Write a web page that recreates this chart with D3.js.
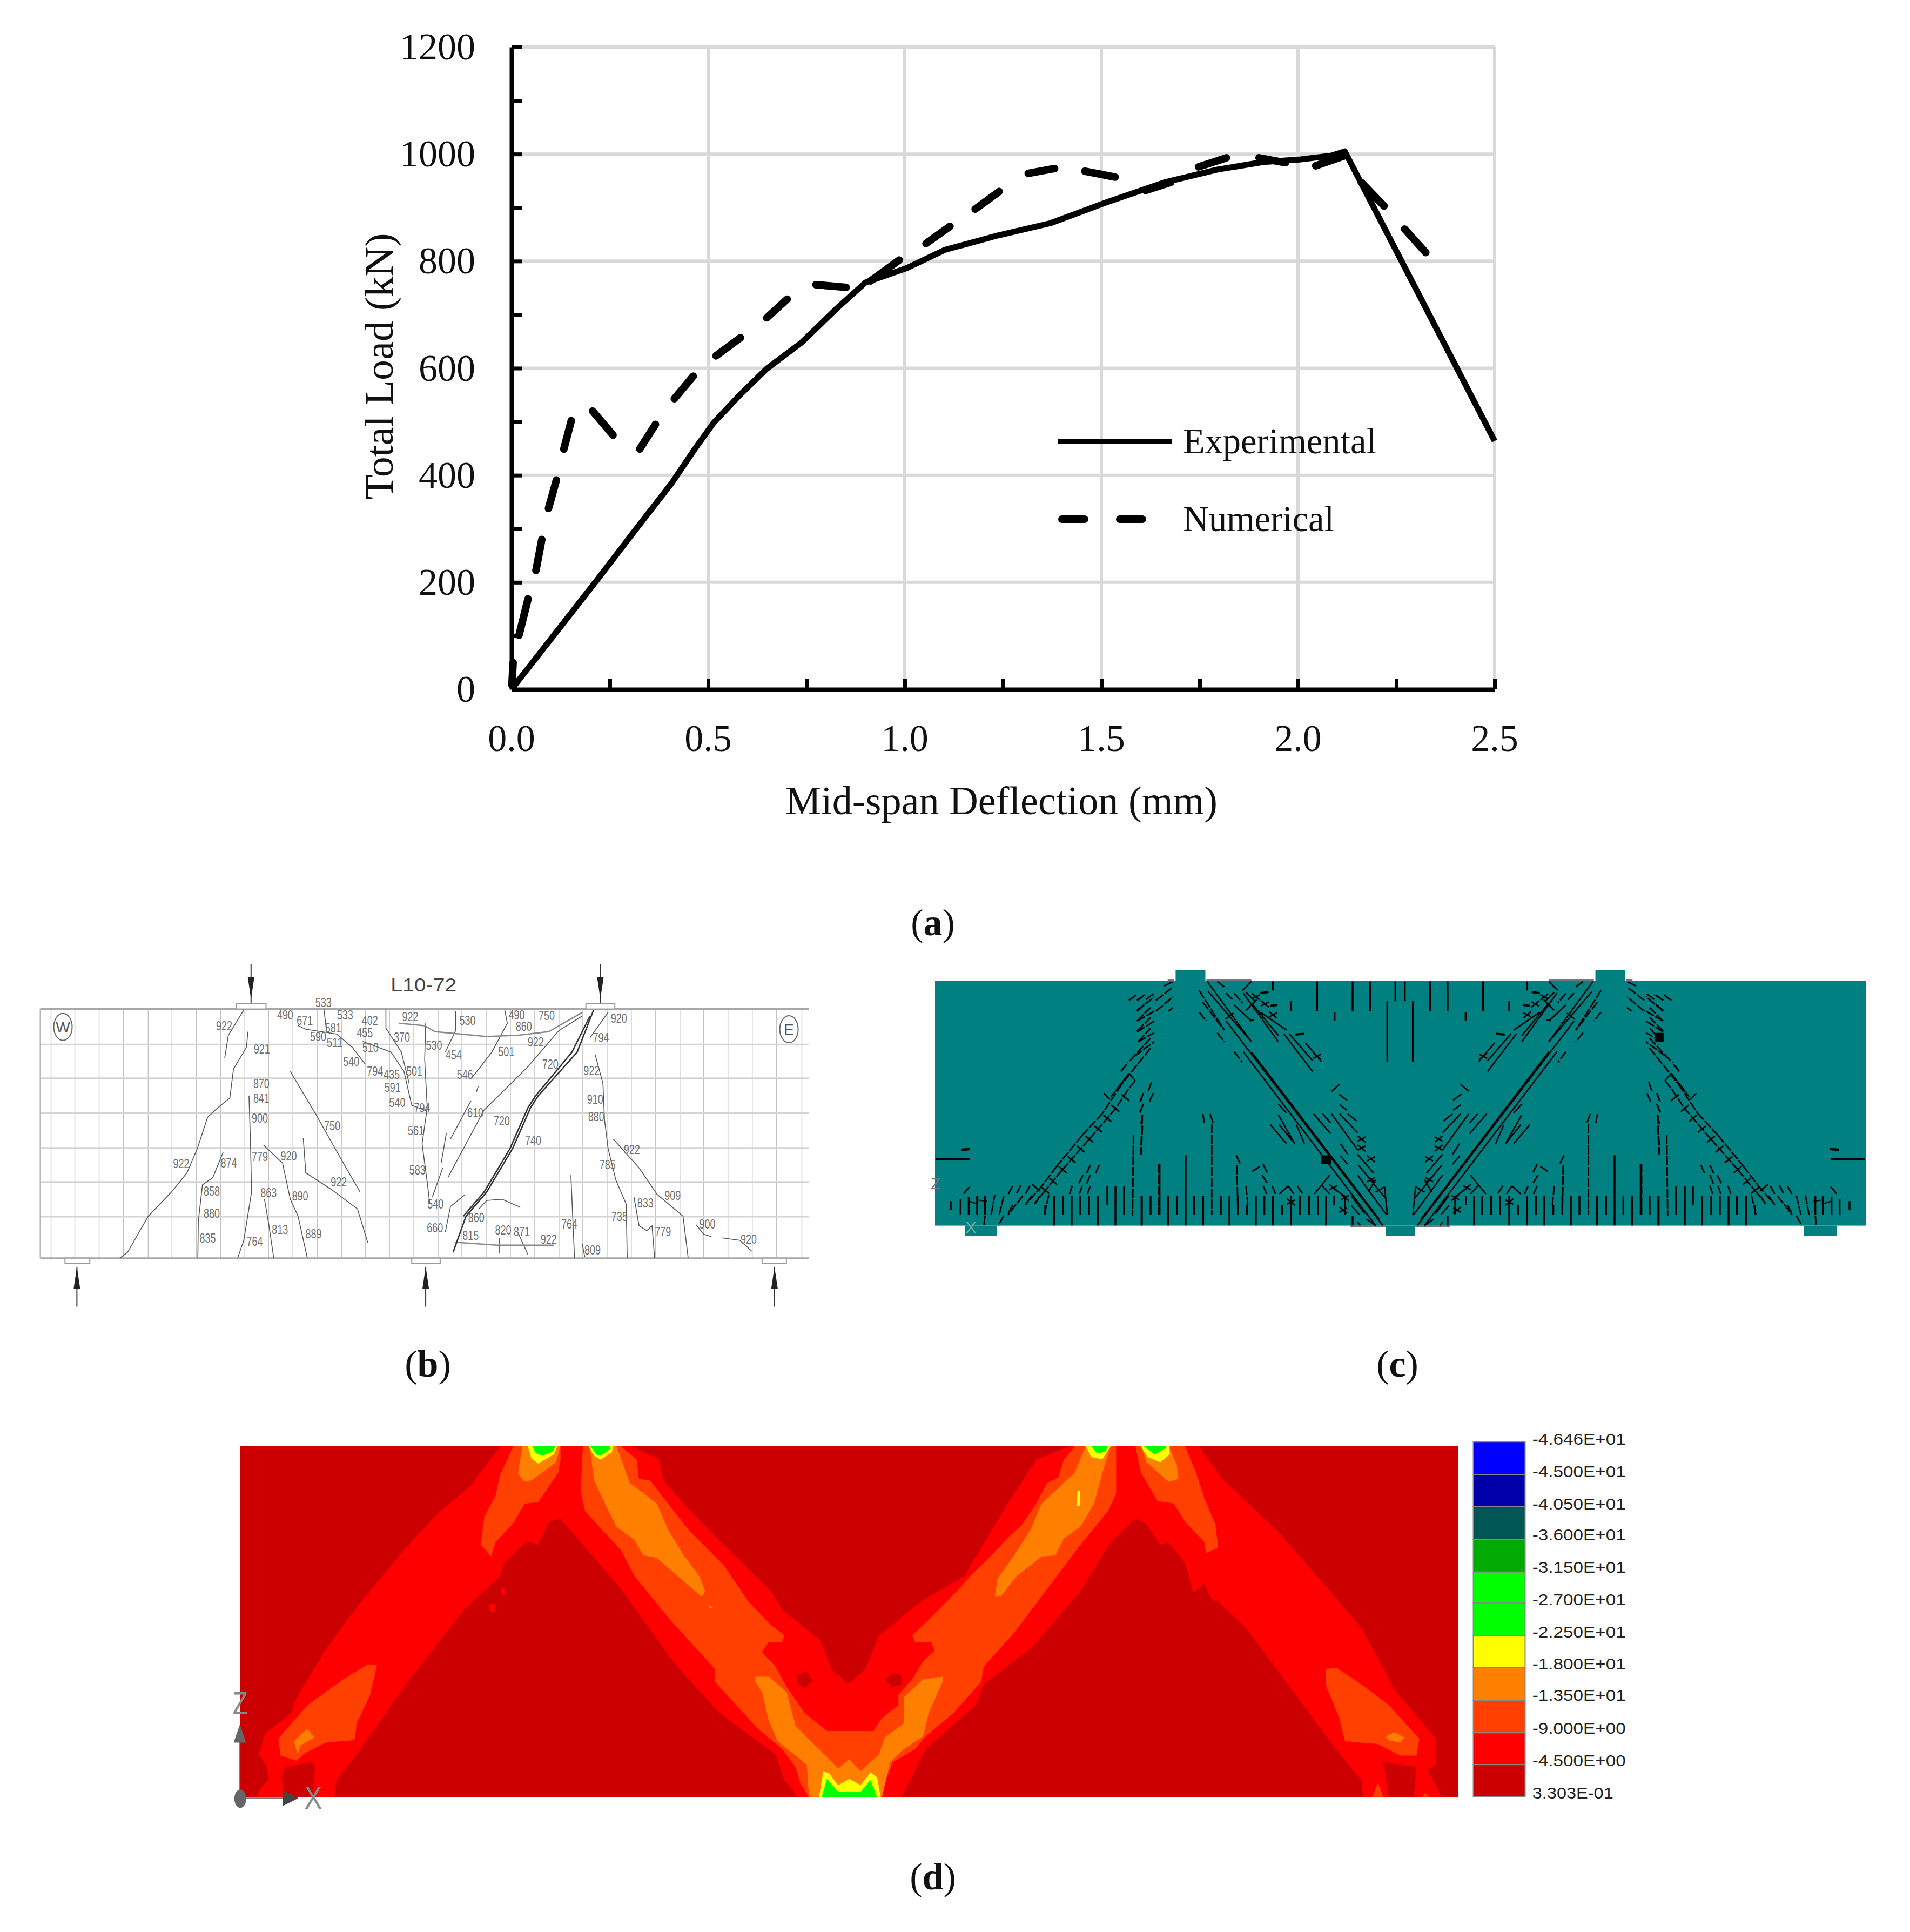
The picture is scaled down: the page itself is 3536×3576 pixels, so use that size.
<!DOCTYPE html>
<html><head><meta charset="utf-8">
<script src="https://cdn.jsdelivr.net/npm/d3@7/dist/d3.min.js"></script>
<style>html,body{margin:0;padding:0;background:#fff}svg{display:block}</style>
</head><body><svg id="c" width="3536" height="3576"></svg>
<script>
// ---------- panel (a) data ----------
const expX=[0,.216,.312,.408,.466,.514,.582,.649,.736,.832,.9,1.005,1.102,1.237,1.371,1.506,1.66,1.795,1.91,2.007,2.084,2.119,2.5];
const expY=[0,203,295,386,449,498,551,599,647,715,760,787,821,848,871,908,947,971,985,990,997,1005,464];
// numerical curve, as the visible dashes (null = gap)
const numX=[.004,.001,null,.019,.042,null,.062,.077,null,.094,.114,null,.133,.152,null,.206,.258,null,.326,.366,null,.414,.462,null,.52,.582,null,.649,.701,null,.774,.851,null,.913,.986,null,1.054,1.115,null,1.179,1.24,null,1.314,1.381,null,1.458,1.535,null,1.612,1.676,null,1.747,1.818,null,1.901,1.968,null,2.045,2.119,null,2.161,2.219,null,2.271,2.325];
const numY=[50,8,null,101,169,null,222,280,null,338,391,null,449,502,null,520,475,null,449,495,null,543,585,null,623,657,null,694,729,null,756,751,null,763,802,null,833,865,null,897,930,null,964,973,null,968,957,null,932,947,null,976,993,null,993,984,null,978,997,null,947,903,null,860,816];
const xTicks=[0,.5,1,1.5,2,2.5], xMinor=[.25,.75,1.25,1.75,2.25];
const yTicks=[0,200,400,600,800,1000,1200], yMinor=[100,300,500,700,900,1100];

// ---------- panel (b) data (reading units of the drawing) ----------
const bH=[388,528,673,817,958,1102];
const bV=[57,103,150,197,245,291,338,385,432,478,525,572,619,665,712,759,806,852,899,946,993,1040,1086,1133,1180,1227,1274,1320,1367,1414,1461,1510];
const bCracks=[[430,245,400,350,393,445],[438,335,435,400,410,490,403,610,380,650,360,690,340,820,320,920,290,1000,245,1100,205,1250,190,1274],[520,500,570,680,620,870,655,1000],[545,775,550,920,600,990,650,1070,670,1210],[468,805,505,880,520,1030,535,1100,553,1274],[440,600,443,800,445,1000,430,1200,418,1274],[470,1030,478,1130,488,1274],[390,835,370,940,350,970,342,1120,341,1274],[535,310,550,325,610,345,640,400,665,470],[585,240,590,330],[660,375,715,420,740,500,755,640,785,665],[705,241,705,320,735,420,750,550],[782,300,780,450,785,650,775,800,785,960,790,1050],[840,250,840,330,820,420],[935,245,940,300,910,420,870,530],[884,560,880,585],[870,620,830,780],[822,755,812,880],[815,900,795,1020],[1085,270,1040,330,980,480,895,660,860,800,825,940],[1135,255,1100,360],[1110,430,1125,550,1128,700,1135,820,1150,950,1170,1050,1172,1274],[1145,780,1195,900,1230,1010,1280,1100,1290,1274],[1185,1020,1195,1140,1210,1160,1220,1140,1225,1274],[1063,930,1070,1274],[1085,1215,1090,1270],[1305,1135,1320,1175,1335,1185],[1355,1190,1390,1200,1413,1245],[857,1013,830,1060,820,1165],[885,1070,900,1035,930,1030,965,1063],[925,1190,925,1255],[960,1165,980,1260]];
const bGrey=[[730,300,780,310,800,335,900,355,960,350,1020,335,1085,255],[838,1208,920,1220,1030,1220]];
const bMain=[[1107,245,1075,420,1000,600,985,650,950,820,900,1000,860,1100,835,1250],[1100,270,1065,420,995,600,980,650,945,820,895,1000,855,1100]];
const bLabels=[[392,310,"922"],[510,265,"490"],[548,288,"671"],[584,213,"533"],[626,265,"533"],[603,318,"581"],[574,355,"590"],[606,380,"511"],[674,288,"402"],[664,338,"455"],[675,400,"510"],[638,458,"540"],[684,498,"794"],[716,512,"435"],[760,498,"501"],[736,358,"370"],[752,272,"922"],[798,390,"530"],[836,430,"454"],[863,287,"530"],[958,265,"490"],[1016,268,"750"],[972,313,"860"],[995,377,"922"],[938,418,"501"],[858,512,"546"],[1023,470,"720"],[1156,278,"920"],[1121,360,"794"],[1103,495,"922"],[465,407,"921"],[464,550,"870"],[464,610,"841"],[461,693,"900"],[718,565,"591"],[727,628,"540"],[775,650,"794"],[763,745,"561"],[878,670,"610"],[929,705,"720"],[601,725,"750"],[990,785,"740"],[1110,615,"910"],[1112,687,"880"],[1181,822,"922"],[309,882,"922"],[401,880,"874"],[461,853,"779"],[517,850,"920"],[766,908,"583"],[614,958,"922"],[368,995,"858"],[478,1003,"863"],[539,1015,"890"],[801,1050,"540"],[1134,885,"785"],[1260,1013,"909"],[1207,1045,"833"],[368,1088,"880"],[500,1155,"813"],[565,1172,"889"],[360,1190,"835"],[451,1203,"764"],[800,1147,"660"],[880,1105,"860"],[869,1178,"815"],[932,1157,"820"],[968,1163,"871"],[1020,1195,"922"],[1060,1133,"764"],[1157,1100,"735"],[1241,1163,"779"],[1327,1133,"900"],[1407,1195,"920"],[1105,1240,"809"]];
const bPlates=[[416,218,473,241],[1092,218,1148,241],[84,1274,132,1295],[755,1274,810,1295],[1433,1274,1480,1295]];
const bArrowsDown=[444,1120], bArrowsUp=[107,782,1457];
const bNotes=[[80,315,"W"],[1485,325,"E"]];

// ---------- panel (c) data: crack marks of the left half, read on two crops ----------
const cSupports=[[415,100,463,155],[1092,100,1140,155],[75,1424,127,1478],[754,1424,801,1478],[1428,1424,1481,1478]];
const cBlocksWide=[[650,1060,666,1105],[1188,425,1202,470]];
const c1Dash=[[1080,155,1120,125],[1125,155,1175,120],[1125,210,1175,170],[1125,270,1200,195],[1125,325,1200,250],[1130,385,1200,310],[1035,550,1075,500],[1085,490,1200,365],[1200,420,1040,620],[1040,620,935,780],[935,780,820,905],[820,905,680,1075],[680,1075,600,1180],[600,1180,505,1290],[1115,600,1075,650],[1075,650,1010,750],[1010,750,860,925],[860,925,710,1095],[710,1095,615,1210],[615,1210,555,1285],[1160,670,1140,725],[1160,730,1140,780],[1155,790,1145,850],[1155,850,1148,1010],[1105,900,1100,1350],[865,1070,845,1115],[915,1070,895,1115],[825,1125,800,1175],[865,1125,845,1175],[765,1185,750,1230],[820,1185,805,1230],[865,1185,850,1230],[435,1185,410,1230],[480,1180,455,1230],[530,1185,505,1230],[195,1190,160,1230],[335,1235,315,1345],[385,1240,360,1345],[490,1240,410,1345],[435,1290,405,1345],[385,1350,355,1405],[540,1240,505,1290],[585,1240,555,1290],[635,1235,610,1345],[280,1350,275,1405]];
const c1Solid=[[940,670,975,705],[980,690,1080,560],[1080,560,1115,600],[190,1270,240,1285],[250,1265,290,1270],[240,1240,240,1285]];
const c1Thick=[[5,1037,195,1037],[150,985,198,980]];
const c1Cross=[[1060,695],[1005,755],[960,810],[910,870],[860,925],[812,980],[762,1040],[712,1095],[660,1160],[615,1210],[565,1195]];
const c1Comb=[[90,1270,1320],[145,1260,1345],[190,1245,1345],[237,1240,1345],[280,1240,1345],[615,1290,1345],[665,1240,1405],[715,1240,1345],[762,1240,1405],[810,1240,1345],[858,1240,1345],[908,1240,1405],[960,1185,1290],[1005,1185,1405],[1053,1185,1345],[1150,1240,1405]];
const c2Dash=[[165,75,215,50],[120,155,210,85],[15,155,65,120],[65,150,110,115],[15,215,110,135],[120,215,215,135],[190,215,215,195],[15,270,110,215],[15,330,110,270],[20,385,110,335],[0,465,110,385],[360,100,500,320],[380,165,500,320],[360,220,400,270],[460,335,500,385],[555,440,600,500],[460,50,500,80],[510,115,545,150],[555,115,600,170],[95,610,75,665],[105,670,80,725],[50,670,30,725],[50,730,30,780],[45,790,35,1010],[420,785,440,840],[430,840,430,1345],[380,785,390,840],[565,1015,590,1065],[570,1070,575,1345],[135,1065,135,1345],[715,1065,740,1115],[655,1105,700,1075],[710,1125,740,1175],[715,1185,735,1230],[765,1185,785,1230],[905,1185,935,1230],[620,1185,630,1290]];
const c2Solid=[[405,50,650,385],[410,105,650,385],[510,270,1380,1405],[605,440,1340,1405],[650,440,1360,1370],[555,180,650,270],[605,115,800,385],[650,170,800,350],[700,220,845,320],[830,340,990,550],[860,340,990,490],[950,390,1040,495],[620,110,670,160],[600,100,650,50],[505,260,550,225],[620,210,680,150],[640,265,665,265],[1095,660,1140,620],[1135,675,1182,710],[1140,735,1182,765],[1185,785,1235,825],[800,730,845,780],[800,790,890,950],[755,845,845,950],[805,845,890,950],[900,845,945,950],[995,785,1090,895],[1045,785,1090,835],[1095,785,1240,985],[1140,785,1240,890],[1145,950,1185,1010],[1145,1020,1185,1065],[1240,1010,1330,1115],[1245,1070,1400,1260],[1240,1125,1400,1345],[805,1230,855,1185],[855,1185,885,1230],[1085,1125,1000,1230],[1040,1180,1085,1230],[1205,1240,1280,1340],[1205,1295,1250,1345],[1290,1370,1340,1405],[1240,1385,1255,1405],[1300,1220,1340,1150],[1340,1220,1390,1190],[1390,1190,1405,1345],[1100,1195,1180,1250]];
const c2Thick=[[700,115,745,108],[755,185,795,180],[895,345,945,340]];
const c2Cross=[[675,135],[725,175],[770,235],[1015,465],[1262,925],[1262,975],[1315,1035],[1315,1150],[1170,1250],[1160,1320],[870,1275],[1105,1195]];
const c2Comb=[[42,1240,1405],[90,1240,1345],[140,1065,1345],[188,1240,1405],[236,1240,1345],[285,1015,1405],[332,1240,1345],[382,1240,1405],[480,1240,1345],[528,1240,1405],[575,1240,1345],[625,1290,1345],[675,1240,1405],[722,1240,1345],[770,1240,1405],[820,1290,1345],[870,1240,1405],[920,1240,1345],[970,1240,1345],[1020,1240,1345],[1065,1240,1405],[1110,1240,1290],[1170,1240,1345],[1212,1350,1405],[770,50,100],[1015,50,215],[1212,50,215],[1310,50,215],[1405,160,495],[870,160,215],[1112,220,270],[1450,50,160]];
const c2Grey=[[400,42,650,42],[185,42,220,42],[1200,1410,1395,1410]];
const c2Block=[[1040,1012,1095,1065]];

// ---------- panel (d) data ----------
const dLevels=[{c:"#0000ff",l:"-4.646E+01"},{c:"#0000aa",l:"-4.500E+01"},{c:"#005555",l:"-4.050E+01"},{c:"#00aa00",l:"-3.600E+01"},{c:"#00ff00",l:"-3.150E+01"},{c:"#00ff00",l:"-2.700E+01"},{c:"#ffff00",l:"-2.250E+01"},{c:"#ff8000",l:"-1.800E+01"},{c:"#ff4000",l:"-1.350E+01"},{c:"#ff0000",l:"-9.000E+00"},{c:"#cc0000",l:"-4.500E+00"}];
const dLabelLast="3.303E-01";
const dEdges=[80,208,332,458,585,705,830,955,1082,1207,1330,1455];
const dLabelY=[70,195,320,440,565,690,815,940,1060,1188,1313,1438];
const L=(...a)=>({s:"l",a}),R=(...a)=>({s:"r",a});
const dRings=[
["#ff0000",[L(68,1457,72,1430,92,1390,90,1340,72,1290,85,1210,145,1130,150,1090,215,900,290,720,400,490,470,360,545,250,610,98,905,98,965,150,975,230,1030,340,1110,480,1215,660,1240,730,1325,850,1350,960,1385,1015),R(70,1015,100,960,125,830,200,700,280,600,355,330,410,150,470,98,705,98,750,230,850,430,1000,800,1060,1040,1135,1230,1135,1330,1120,1350,1140,1430,1145,1457,1095,1457,1100,1340,1040,1320,1050,1457,1003,1457,1000,1390,950,1260,860,1000,790,800,740,700,728,690,715,630,695,665,680,550,650,470,635,480,610,400,590,378,545,470,490,660,400,880,315,1020,300,1100,210,1270,165,1457),L(1275,1457,1245,1390,1225,1290,1100,1130,1000,940,880,650,745,378,720,390,695,480,670,465,620,550,610,600,530,730,480,840,400,1020,290,1290,245,1390,240,1457,190,1457,197,1340,190,1320,130,1340,122,1380,130,1457)]],
["#ff0000",[L(612,648,622,648,622,675,612,675)]],
["#ff0000",[L(588,705,603,715,595,745,585,730)]],
["#cc0000",[L(1275,980,1295,970,1308,1005,1290,1035,1272,1010)]],
["#cc0000",[L(1470,1000,1490,975,1505,985,1503,1020,1485,1030)]],
["#cc0000",[R(135,1000,150,975,167,985,165,1020,150,1030)]],
["#cc0000",[R(710,695,728,695,725,745,715,745)]],
["#ff4000",[L(640,98,610,210,600,290,575,370,567,480,590,525,600,470,640,395,665,320,695,315,740,200,745,150,745,98)]],
["#ff4000",[L(315,942,335,945,320,1060,290,1170,285,1235,220,1245,175,1285,155,1315,120,1295,115,1230,180,1100,260,1000)]],
["#ff4000",[L(795,98,790,270,800,350,880,500,910,600,990,770,1090,960,1090,1010,1185,1190,1240,1270,1270,1340,1280,1400,1300,1457),R(130,1457,135,1400,150,1320,190,1270,210,1220,260,1130,310,1010,315,950,370,820,430,650,490,480,540,350,555,280,555,98,480,98,460,150,450,220,430,240,410,320,385,400,360,450,320,540,295,590,270,650,215,770,185,830,190,855,220,855,225,890,205,930,185,1000,160,1060,160,1100,130,1150,115,1200,25,1200),L(1340,1200,1290,1130,1250,1030,1225,950,1195,895,1210,855,1240,855,1245,830,1215,790,1165,700,1110,560,1030,420,985,320,945,230,920,225,915,150,880,98)]],
["#ff4000",[R(590,98,600,200,630,310,660,320,680,390,715,470,718,512,740,490,735,400,715,300,700,200,680,98)]],
["#ff4000",[R(935,960,955,955,1000,1020,1050,1100,1105,1230,1100,1295,1070,1295,1030,1250,970,1240,960,1150,935,1020)]],
["#ff4000",[R(1020,1457,1030,1400,1040,1457)]],
["#ff4000",[R(1110,1457,1115,1440,1125,1457)]],
["#ff8000",[L(660,98,650,205,665,235,680,230,735,160,745,98)]],
["#ff8000",[L(810,98,820,230,850,340,870,410,910,460,930,520,960,530,1040,650,1060,680,1068,660,1055,600,1020,520,985,420,960,320,900,240,885,170,870,98)]],
["#ff8000",[L(150,1240,180,1190,195,1225,165,1255,158,1290)]],
["#ff8000",[L(1075,708,1087,725,1078,727)]],
["#ff8000",[L(1180,990,1210,990,1250,1050,1270,1180,1310,1250,1345,1310,1365,1345,1390,1310,1415,1355),R(92,1355,125,1290,135,1225,170,1170,170,1070,205,1000,240,990,240,1010,215,1130,205,1220,170,1270,145,1320,130,1457),L(1300,1457,1295,1330,1230,1240,1210,1160,1195,1050,1180,1010)]],
["#ff8000",[R(500,98,480,200,420,320,400,420,370,520,340,610,335,680,345,680,375,600,420,525,445,520,460,455,490,410,515,320,530,200,545,98)]],
["#ff8000",[R(600,98,610,160,650,235,668,225,665,170,650,98)]],
["#ff8000",[R(1045,1220,1060,1205,1078,1225,1070,1245,1048,1235)]],
["#ffff00",[L(672,98,680,145,695,165,730,130,738,98)]],
["#ffff00",[L(808,98,820,135,835,150,860,120,862,98)]],
["#ffff00",[L(1322,1457,1332,1355,1345,1365,1365,1410,1390,1385,1415,1410,1437,1360,1452,1380,1460,1457)]],
["#ffff00",[R(500,98,510,140,530,148,545,98)]],
["#ffff00",[R(600,98,612,140,635,160,652,130,652,98)]],
["#ffff00",[R(485,270,490,270,490,330,484,330)]],
["#00ff00",[L(682,98,690,125,705,135,730,115,733,98)]],
["#00ff00",[L(812,98,825,130,835,135,855,110,855,98)]],
["#00ff00",[L(1328,1457,1340,1385,1365,1435,1415,1435,1437,1390,1452,1457)]],
["#00ff00",[R(510,98,520,125,535,120,540,98)]],
["#00ff00",[R(605,98,625,130,645,105,645,98)]]
];

// ---------- scales ----------
const svg=d3.select("#c");
const x=d3.scaleLinear().domain([0,2.5]).range([947,2767]);
const y=d3.scaleLinear().domain([0,1200]).range([1276,87]);
const bx=d3.scaleLinear().domain([0,1568]).range([40,1540]), by=d3.scaleLinear().domain([0,1568]).range([1760,2460]);
const cx=d3.scaleLinear().domain([0,1568]).range([1700,3500]), cy=d3.scaleLinear().domain([0,1568]).range([1760,2320]);
const MID=2592; // symmetry axis of beam (c)
const c1x=d3.scaleLinear().domain([0,1200]).range([1730,2130]), c2x=d3.scaleLinear().domain([0,1200]).range([2100,2500]), c0y=d3.scaleLinear().domain([0,1200]).range([1800,2200]);
const dxl=d3.scaleLinear().domain([0,1568]).range([420,1720]), dxr=d3.scaleLinear().domain([0,1568]).range([1500,3100]), dy=d3.scaleLinear().domain([0,1568]).range([2630,3380]);
const pairs=a=>{const o=[];for(let i=0;i<a.length;i+=2)o.push([a[i],a[i+1]]);return o;};
const line=d3.line();

// ---------- panel (a) ----------
const a=svg.append("g");
const GRID="#d9d9d9";
a.selectAll(".gx").data(xTicks.slice(1)).join("line").attr("x1",x).attr("x2",x).attr("y1",y(1200)).attr("y2",y(0)).attr("stroke",GRID).attr("stroke-width",6);
a.selectAll(".gy").data(yTicks.slice(1)).join("line").attr("y1",y).attr("y2",y).attr("x1",x(0)).attr("x2",x(2.5)).attr("stroke",GRID).attr("stroke-width",6);
const axB=d3.axisBottom(x).tickValues(xTicks.concat(xMinor)).tickSize(0).tickFormat("");
const axL=d3.axisLeft(y).tickValues(yTicks.concat(yMinor)).tickSize(0).tickFormat("");
a.append("g").attr("transform",`translate(0,${y(0)})`).call(axB).call(g=>{g.select(".domain").attr("stroke","#000").attr("stroke-width",8);g.selectAll(".tick line").attr("y2",-20).attr("stroke","#000").attr("stroke-width",7);});
a.append("g").attr("transform",`translate(${x(0)},0)`).call(axL).call(g=>{g.select(".domain").attr("stroke","#000").attr("stroke-width",8);g.selectAll(".tick line").attr("x2",20).attr("stroke","#000").attr("stroke-width",7);});
const serif="'Liberation Serif','Times New Roman',serif";
a.selectAll(".xt").data(xTicks).join("text").attr("x",x).attr("y",1365).attr("dy","0.35em").attr("text-anchor","middle").attr("font-family",serif).attr("font-size",70).attr("fill","#111").text(d=>d.toFixed(1));
a.selectAll(".yt").data(yTicks).join("text").attr("x",880).attr("y",d=>y(d)).attr("dy","0.33em").attr("text-anchor","end").attr("font-family",serif).attr("font-size",70).attr("fill","#111").text(d=>d);
a.append("text").attr("x",1854).attr("y",1483).attr("dy","0.33em").attr("text-anchor","middle").attr("font-family",serif).attr("font-size",74).attr("textLength",800).attr("lengthAdjust","spacingAndGlyphs").attr("fill","#111").text("Mid-span Deflection (mm)");
a.append("text").attr("transform","translate(703,678) rotate(-90)").attr("dy","0.33em").attr("text-anchor","middle").attr("font-family",serif).attr("font-size",74).attr("textLength",493).attr("lengthAdjust","spacingAndGlyphs").attr("fill","#111").text("Total Load (kN)");
const lnA=d3.line().defined(d=>d[0]!=null).x(d=>x(d[0])).y(d=>y(d[1]));
a.append("path").attr("d",lnA(d3.zip(numX,numY))).attr("fill","none").attr("stroke","#000").attr("stroke-width",14).attr("stroke-linecap","round");
a.append("path").attr("d",lnA(d3.zip(expX,expY))).attr("fill","none").attr("stroke","#000").attr("stroke-width",11).attr("stroke-linejoin","round");
a.append("line").attr("x1",1959).attr("x2",2169).attr("y1",817).attr("y2",817).attr("stroke","#000").attr("stroke-width",10);
a.append("line").attr("x1",1966).attr("x2",2115).attr("y1",961).attr("y2",961).attr("stroke","#000").attr("stroke-width",14).attr("stroke-dasharray","42 65").attr("stroke-linecap","round");
a.append("text").attr("x",2190).attr("y",817).attr("dy","0.33em").attr("font-family",serif).attr("font-size",68).attr("textLength",358).attr("lengthAdjust","spacingAndGlyphs").attr("fill","#111").text("Experimental");
a.append("text").attr("x",2190).attr("y",961).attr("dy","0.33em").attr("font-family",serif).attr("font-size",68).attr("textLength",280).attr("lengthAdjust","spacingAndGlyphs").attr("fill","#111").text("Numerical");

// captions
[["a",1727,1708],["b",792,2525],["c",2587,2525],["d",1727,3474]].forEach(([t,px,py])=>{
  const tx=svg.append("text").attr("x",px).attr("y",py).attr("dy","0.33em").attr("text-anchor","middle").attr("font-family",serif).attr("font-size",70).attr("fill","#111");
  tx.append("tspan").text("(");tx.append("tspan").attr("font-weight","bold").text(t);tx.append("tspan").text(")");
});

// ---------- panel (b) ----------
const b=svg.append("g");
const bl=d3.line().x(d=>bx(d[0])).y(d=>by(d[1]));
b.selectAll(".v").data(bV).join("line").attr("x1",bx).attr("x2",bx).attr("y1",by(241)).attr("y2",by(1274)).attr("stroke","#c4c4c4").attr("stroke-width",1.5);
b.selectAll(".h").data(bH).join("line").attr("y1",by).attr("y2",by).attr("x1",bx(36)).attr("x2",bx(1524)).attr("stroke","#d4d4d4").attr("stroke-width",3);
[241,1274].forEach(v=>b.append("line").attr("x1",bx(36)).attr("x2",bx(1524)).attr("y1",by(v)).attr("y2",by(v)).attr("stroke","#a8a8a8").attr("stroke-width",3));
b.append("line").attr("x1",bx(36)).attr("x2",bx(36)).attr("y1",by(241)).attr("y2",by(1274)).attr("stroke","#b8b8b8").attr("stroke-width",2);
b.selectAll(".p").data(bPlates).join("rect").attr("x",d=>bx(d[0])).attr("y",d=>by(d[1])).attr("width",d=>bx(d[2])-bx(d[0])).attr("height",d=>by(d[3])-by(d[1])).attr("fill","#fff").attr("stroke","#999").attr("stroke-width",2);
b.selectAll(".c").data(bCracks).join("path").attr("d",d=>bl(pairs(d))).attr("fill","none").attr("stroke","#555").attr("stroke-width",1.6);
b.selectAll(".g").data(bGrey).join("path").attr("d",d=>bl(pairs(d))).attr("fill","none").attr("stroke","#888").attr("stroke-width",2.5);
b.selectAll(".m").data(bMain).join("path").attr("d",d=>bl(pairs(d))).attr("fill","none").attr("stroke","#333").attr("stroke-width",2.6);
b.selectAll(".t").data(bLabels).join("text").attr("x",d=>bx(d[0])).attr("y",d=>by(d[1])).attr("dy","0.36em").attr("text-anchor","middle").attr("font-family","'Liberation Sans',sans-serif").attr("font-size",24).attr("textLength",30).attr("lengthAdjust","spacingAndGlyphs").attr("fill","#707070").text(d=>d[2]);
b.append("text").attr("x",bx(778)).attr("y",by(140)).attr("dy","0.36em").attr("text-anchor","middle").attr("font-family","'Liberation Sans',sans-serif").attr("font-size",35).attr("textLength",122).attr("lengthAdjust","spacingAndGlyphs").attr("fill","#444").text("L10-72");
bArrowsDown.forEach(v=>{
  b.append("line").attr("x1",bx(v)).attr("x2",bx(v)).attr("y1",by(56)).attr("y2",by(215)).attr("stroke","#333").attr("stroke-width",2);
  b.append("path").attr("d",line([[bx(v)-6,by(110)],[bx(v)+6,by(110)],[bx(v),by(200)]])+"Z").attr("fill","#222");
});
bArrowsUp.forEach(v=>{
  b.append("line").attr("x1",bx(v)).attr("x2",bx(v)).attr("y1",by(1310)).attr("y2",by(1475)).attr("stroke","#333").attr("stroke-width",2);
  b.append("path").attr("d",line([[bx(v)-6,by(1400)],[bx(v)+6,by(1400)],[bx(v),by(1310)]])+"Z").attr("fill","#222");
});
bNotes.forEach(d=>{
  b.append("ellipse").attr("cx",bx(d[0])).attr("cy",by(d[1])).attr("rx",17).attr("ry",25).attr("fill","none").attr("stroke","#666").attr("stroke-width",2);
  b.append("text").attr("x",bx(d[0])).attr("y",by(d[1])).attr("dy","0.36em").attr("text-anchor","middle").attr("font-family","'Liberation Sans',sans-serif").attr("font-size",28).attr("fill","#555").text(d[2]);
});

// ---------- panel (c) ----------
const c=svg.append("g");
c.append("rect").attr("x",cx(27)).attr("y",cy(155)).attr("width",cx(1528)-cx(27)).attr("height",cy(1424)-cy(155)).attr("fill","#008080");
c.selectAll(".s").data(cSupports).join("rect").attr("x",d=>cx(d[0])).attr("y",d=>cy(d[1])).attr("width",d=>cx(d[2])-cx(d[0])).attr("height",d=>cy(d[3])-cy(d[1])).attr("fill","#008080");
function seg(data,sx,mirror,w,col,dash){
  const fx=v=>mirror?2*MID-sx(v):sx(v);
  c.append("g").selectAll("line").data(data).join("line").attr("x1",d=>fx(d[0])).attr("x2",d=>fx(d[2])).attr("y1",d=>c0y(d[1])).attr("y2",d=>c0y(d[3])).attr("stroke",col).attr("stroke-width",w).attr("stroke-dasharray",dash||null);
}
[false,true].forEach(m=>{
  seg(c2Grey,c2x,m,4,"#777");
  seg(c1Dash,c1x,m,2.8,"#000","17 3");
  seg(c1Solid,c1x,m,2.4,"#000");
  seg(c1Thick,c1x,m,4.5,"#000");
  seg(c1Cross.flatMap(p=>[[p[0]-22,p[1]-18,p[0]+22,p[1]+18]]),c1x,m,2.8,"#000");
  seg(c1Comb.map(p=>[p[0],p[1],p[0],p[2]]),c1x,m,3.4,"#000");
  seg(c2Dash,c2x,m,2.8,"#000","17 3");
  seg(c2Solid,c2x,m,2.6,"#000");
  seg(c2Thick,c2x,m,4,"#000");
  seg(c2Cross.flatMap(p=>[[p[0]-22,p[1]-18,p[0]+22,p[1]+18],[p[0]-22,p[1]+12,p[0]+22,p[1]-12]]),c2x,m,2.6,"#000");
  seg(c2Comb.map(p=>[p[0],p[1],p[0],p[2]]),c2x,m,3.4,"#000");
});
c.selectAll(".b").data(cBlocksWide).join("rect").attr("x",d=>cx(d[0])).attr("y",d=>cy(d[1])).attr("width",d=>cx(d[2])-cx(d[0])).attr("height",d=>cy(d[3])-cy(d[1])).attr("fill","#000");
c.append("text").attr("x",cx(28)).attr("y",cy(1205)).attr("dy","0.36em").attr("text-anchor","middle").attr("font-family","'Liberation Sans',sans-serif").attr("font-size",30).attr("fill","#777").text("Z");
c.append("text").attr("x",cx(85)).attr("y",cy(1430)).attr("dy","0.36em").attr("text-anchor","middle").attr("font-family","'Liberation Sans',sans-serif").attr("font-size",30).attr("fill","#7aa").text("X");

// ---------- panel (d) ----------
const d_=svg.append("g");
const ringPts=r=>r.flatMap(p=>pairs(p.a).map(q=>[(p.s==="l"?dxl:dxr)(q[0]),dy(q[1])]));
d_.append("rect").attr("x",dxl(29)).attr("y",dy(98)).attr("width",dxr(1175)-dxl(29)).attr("height",dy(1457)-dy(98)).attr("fill","#cc0000");
d_.selectAll(".r").data(dRings).join("path").attr("d",d=>line(ringPts(d[1]))+"Z").attr("fill",d=>d[0]);
const segs=dLevels.map((d,i)=>({c:d.c,y0:dEdges[i],y1:dEdges[i+1]}));
d_.selectAll(".k").data(segs).join("rect").attr("x",dxr(1203)).attr("width",dxr(1297)-dxr(1203)).attr("y",d=>dy(d.y0)).attr("height",d=>dy(d.y1)-dy(d.y0)).attr("fill",d=>d.c).attr("stroke","#888").attr("stroke-width",2);
d_.selectAll(".kt").data(dLevels.map(d=>d.l).concat([dLabelLast])).join("text").attr("x",dxr(1310)).attr("y",(d,i)=>dy(dLabelY[i])).attr("dy","0.36em").attr("font-family","'Liberation Sans',sans-serif").attr("font-size",30).attr("textLength",d=>d===dLabelLast?150:173).attr("lengthAdjust","spacingAndGlyphs").attr("fill","#222").text(d=>d);
d_.append("line").attr("x1",dxl(29)).attr("x2",dxl(29)).attr("y1",dy(1240)).attr("y2",dy(1460)).attr("stroke","#777").attr("stroke-width",2);
d_.append("line").attr("x1",dxl(29)).attr("x2",dxl(130)).attr("y1",dy(1460)).attr("y2",dy(1460)).attr("stroke","#777").attr("stroke-width",2);
d_.append("path").attr("d",line([[dxl(15),dy(1245)],[dxl(43),dy(1245)],[dxl(29),dy(1175)]])+"Z").attr("fill","#666");
d_.append("path").attr("d",line([[dxl(125),dy(1430)],[dxl(125),dy(1490)],[dxl(160),dy(1460)]])+"Z").attr("fill","#444");
d_.append("ellipse").attr("cx",dxl(30)).attr("cy",dy(1462)).attr("rx",11).attr("ry",17).attr("fill","#666");
d_.append("text").attr("x",dxl(30)).attr("y",dy(1090)).attr("dy","0.36em").attr("text-anchor","middle").attr("font-family","'Liberation Sans',sans-serif").attr("font-size",60).attr("textLength",28).attr("lengthAdjust","spacingAndGlyphs").attr("fill","#888").text("Z");
d_.append("text").attr("x",dxl(193)).attr("y",dy(1455)).attr("dy","0.36em").attr("text-anchor","middle").attr("font-family","'Liberation Sans',sans-serif").attr("font-size",60).attr("textLength",33).attr("lengthAdjust","spacingAndGlyphs").attr("fill","#888").text("X");
</script></body></html>
